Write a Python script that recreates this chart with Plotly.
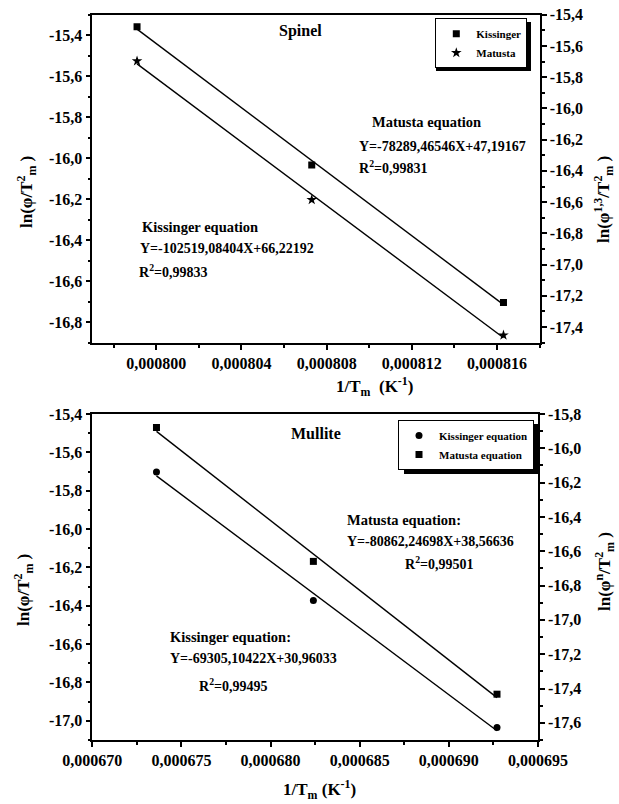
import numpy as np
import plotly.graph_objects as go

# ---------------- data ----------------
# Spinel (top panel)
spinel_x = [0.0007991, 0.0008073, 0.0008163]
spinel_kissinger = [-15.359, -16.033, -16.704]     # left axis
spinel_matusta = [-15.697, -16.585, -17.452]       # right axis

# Mullite (bottom panel)
mullite_x = [0.0006736, 0.0006824, 0.0006927]
mullite_kissinger = [-15.703, -16.372, -17.035]    # left axis
mullite_matusta = [-15.878, -16.659, -17.433]      # right axis

# tick values / labels
spinel_xticks = [0.000800, 0.000804, 0.000808, 0.000812, 0.000816]
spinel_xlabels = ["0,000800", "0,000804", "0,000808", "0,000812", "0,000816"]
spinel_lticks = [-15.4, -15.6, -15.8, -16.0, -16.2, -16.4, -16.6, -16.8]
spinel_llabels = ["-15,4", "-15,6", "-15,8", "-16,0", "-16,2", "-16,4", "-16,6", "-16,8"]
spinel_rticks = [-15.4, -15.6, -15.8, -16.0, -16.2, -16.4, -16.6, -16.8, -17.0, -17.2, -17.4]
spinel_rlabels = ["-15,4", "-15,6", "-15,8", "-16,0", "-16,2", "-16,4", "-16,6", "-16,8",
                  "-17,0", "-17,2", "-17,4"]

mullite_xticks = [0.000670, 0.000675, 0.000680, 0.000685, 0.000690, 0.000695]
mullite_xlabels = ["0,000670", "0,000675", "0,000680", "0,000685", "0,000690", "0,000695"]
mullite_lticks = [-15.4, -15.6, -15.8, -16.0, -16.2, -16.4, -16.6, -16.8, -17.0]
mullite_llabels = ["-15,4", "-15,6", "-15,8", "-16,0", "-16,2", "-16,4", "-16,6", "-16,8", "-17,0"]
mullite_rticks = [-15.8, -16.0, -16.2, -16.4, -16.6, -16.8, -17.0, -17.2, -17.4, -17.6]
mullite_rlabels = ["-15,8", "-16,0", "-16,2", "-16,4", "-16,6", "-16,8", "-17,0", "-17,2",
                   "-17,4", "-17,6"]

# ---------------- helpers ----------------
W, H = 619, 804
FONT = "Liberation Serif"


def px(x):
    return x / W


def py(y):
    return 1 - y / H


def fit_line(x, y):
    k, b = np.polyfit(x, y, 1)
    xs = [min(x), max(x)]
    return xs, [k * v + b for v in xs]


fig = go.Figure()

LINE = dict(color="black", width=1.4)

# ---- top panel ----
lx, ly = fit_line(spinel_x, spinel_kissinger)
fig.add_trace(go.Scatter(x=lx, y=ly, mode="lines", line=LINE,
                         showlegend=False, xaxis="x", yaxis="y", hoverinfo="skip"))
lx, ly = fit_line(spinel_x, spinel_matusta)
fig.add_trace(go.Scatter(x=lx, y=ly, mode="lines", line=LINE,
                         showlegend=False, xaxis="x", yaxis="y2", hoverinfo="skip"))
fig.add_trace(go.Scatter(x=spinel_x, y=spinel_kissinger, mode="markers", name="Kissinger",
                         marker=dict(symbol="square", size=7, color="black"),
                         xaxis="x", yaxis="y", legend="legend"))
fig.add_trace(go.Scatter(x=spinel_x, y=spinel_matusta, mode="markers", name="Matusta",
                         marker=dict(symbol="star", size=8, color="black"),
                         xaxis="x", yaxis="y2", legend="legend"))

# ---- bottom panel ----
lx, ly = fit_line(mullite_x, mullite_kissinger)
fig.add_trace(go.Scatter(x=lx, y=ly, mode="lines", line=LINE,
                         showlegend=False, xaxis="x2", yaxis="y3", hoverinfo="skip"))
lx, ly = fit_line(mullite_x, mullite_matusta)
fig.add_trace(go.Scatter(x=lx, y=ly, mode="lines", line=LINE,
                         showlegend=False, xaxis="x2", yaxis="y4", hoverinfo="skip"))
fig.add_trace(go.Scatter(x=mullite_x, y=mullite_kissinger, mode="markers", name="Kissinger equation",
                         marker=dict(symbol="circle", size=7, color="black"),
                         xaxis="x2", yaxis="y3", legend="legend2"))
fig.add_trace(go.Scatter(x=mullite_x, y=mullite_matusta, mode="markers", name="Matusta equation",
                         marker=dict(symbol="square", size=7, color="black"),
                         xaxis="x2", yaxis="y4", legend="legend2"))

tickfont = dict(family=FONT, size=16, color="black", weight="bold")
MINOR = dict(ticks="outside", ticklen=3, tickwidth=1.5, tickcolor="black", tickmode="linear")
axline = dict(showline=True, linecolor="black", linewidth=1.6, showgrid=False, zeroline=False,
              ticks="outside", ticklen=5, tickwidth=1.5, tickcolor="black", tickfont=tickfont,
              tickmode="array", automargin=False)

top_xdom = [px(92.3), px(539.7)]
top_ydom = [py(342.7), py(14.7)]
bot_xdom = [px(92.3), px(538.0)]
bot_ydom = [py(740.0), py(414.0)]

fig.update_layout(
    template="none",
    width=W, height=H, autosize=False,
    margin=dict(l=0, r=0, t=0, b=0, pad=0),
    paper_bgcolor="white", plot_bgcolor="white",
    font=dict(family=FONT, color="black", weight="bold"),
    xaxis=dict(axline, domain=top_xdom, anchor="y", range=[0.000797, 0.000818], mirror=True,
               tickvals=spinel_xticks, ticktext=spinel_xlabels,
               minor=dict(MINOR, tick0=0.000798, dtick=0.000004)),
    xaxis3=dict(domain=top_xdom, anchor="y", overlaying="x", side="top", automargin=False,
                range=[0.000797, 0.000818], showline=False, showgrid=False, zeroline=False,
                showticklabels=False, ticks="inside", ticklen=5, tickwidth=1.5, tickcolor="black",
                tickmode="array", tickvals=spinel_xticks,
                minor=dict(MINOR, ticks="inside", tick0=0.000798, dtick=0.000004)),
    yaxis=dict(axline, domain=top_ydom, anchor="x", range=[-16.9, -15.3],
               tickvals=spinel_lticks, ticktext=spinel_llabels,
               minor=dict(MINOR, tick0=-15.3, dtick=0.2)),
    yaxis2=dict(axline, domain=top_ydom, anchor="x", overlaying="y", side="right",
                range=[-17.5, -15.4], tickvals=spinel_rticks, ticktext=spinel_rlabels,
                minor=dict(MINOR, tick0=-15.5, dtick=0.2)),
    xaxis2=dict(axline, domain=bot_xdom, anchor="y3", range=[0.000670, 0.000695], mirror=True,
                tickvals=mullite_xticks, ticktext=mullite_xlabels,
                minor=dict(MINOR, tick0=0.0006725, dtick=0.000005)),
    xaxis4=dict(domain=bot_xdom, anchor="y3", overlaying="x2", side="top", automargin=False,
                range=[0.000670, 0.000695], showline=False, showgrid=False, zeroline=False,
                showticklabels=False, ticks="inside", ticklen=5, tickwidth=1.5, tickcolor="black",
                tickmode="array", tickvals=mullite_xticks,
                minor=dict(MINOR, ticks="inside", tick0=0.0006725, dtick=0.000005)),
    yaxis3=dict(axline, domain=bot_ydom, anchor="x2", range=[-17.1, -15.4],
                tickvals=mullite_lticks, ticktext=mullite_llabels,
                minor=dict(MINOR, tick0=-15.5, dtick=0.2)),
    yaxis4=dict(axline, domain=bot_ydom, anchor="x2", overlaying="y3", side="right",
                range=[-17.7, -15.8], tickvals=mullite_rticks, ticktext=mullite_rlabels,
                minor=dict(MINOR, tick0=-15.9, dtick=0.2)),
    legend=dict(x=px(527.3), y=py(18.3), xanchor="right", yanchor="top",
                bgcolor="white", bordercolor="black", borderwidth=1,
                font=dict(family=FONT, size=11, color="black", weight="bold"),
                itemwidth=30, tracegroupgap=0),
    legend2=dict(x=px(534.0), y=py(420.0), xanchor="right", yanchor="top",
                 bgcolor="white", bordercolor="black", borderwidth=1,
                 font=dict(family=FONT, size=11, color="black", weight="bold"),
                 itemwidth=30, tracegroupgap=0),
)

# legend drop shadows (decorative, behind the white legend boxes)
fig.add_shape(type="rect", xref="paper", yref="paper", layer="above",
              x0=px(436), x1=px(531), y0=py(71), y1=py(22),
              fillcolor="black", line=dict(width=0))
fig.add_shape(type="rect", xref="paper", yref="paper", layer="above",
              x0=px(404), x1=px(538), y0=py(474), y1=py(424),
              fillcolor="black", line=dict(width=0))

# annotations
head_font = dict(family=FONT, size=14.5, color="black", weight="bold")
eq_font = dict(family=FONT, size=14, color="black", weight="bold")
title_font = dict(family=FONT, size=16, color="black", weight="bold")
axis_font = dict(family=FONT, size=17, color="black", weight="bold")


def add_text(text, x, y, font, xanchor="left", angle=0):
    fig.add_annotation(text=text, x=px(x), y=py(y), xref="paper", yref="paper",
                       xanchor=xanchor, yanchor="middle", showarrow=False, font=font,
                       textangle=angle)


add_text("Spinel", 300, 30.7, title_font, "center")
add_text("Matusta equation", 370, 122.3, head_font)
add_text("Y=-78289,46546X+47,19167", 356.7, 146.7, eq_font)
add_text("R<sup>2</sup>=0,99831", 356.7, 166.7, eq_font)
add_text("Kissinger equation", 140, 226.7, head_font)
add_text("Y=-102519,08404X+66,22192", 137.7, 249.0, eq_font)
add_text("R<sup>2</sup>=0,99833", 136.7, 270.7, eq_font)

add_text("Mullite", 316, 433.3, title_font, "center")
add_text("Matusta equation:", 345, 519.5, head_font)
add_text("Y=-80862,24698X+38,56636", 345, 541.0, eq_font)
add_text("R<sup>2</sup>=0,99501", 403.3, 563.0, eq_font)
add_text("Kissinger equation:", 167.7, 637.3, head_font)
add_text("Y=-69305,10422X+30,96033", 167.7, 658.3, eq_font)
add_text("R<sup>2</sup>=0,99495", 196.7, 685.0, eq_font)

# axis titles
add_text("1/T<sub>m</sub>  (K<sup>-1</sup>)", 374, 386, axis_font, "center")
add_text("1/T<sub>m</sub> (K<sup>-1</sup>)", 319, 789, axis_font, "center")
add_text("ln(φ/T<sup>2</sup><sub>m</sub> )", 26, 192, axis_font, "center", -90)
add_text("ln(φ<sup>1,3</sup>/T<sup>2</sup><sub>m</sub> )", 604, 200, axis_font, "center", -90)
add_text("ln(φ/T<sup>2</sup><sub>m</sub> )", 23, 590, axis_font, "center", -90)
add_text("ln(φ<sup>n</sup>/T<sup>2</sup><sub>m</sub> )", 604, 572, axis_font, "center", -90)

fig.write_html("out.html")
